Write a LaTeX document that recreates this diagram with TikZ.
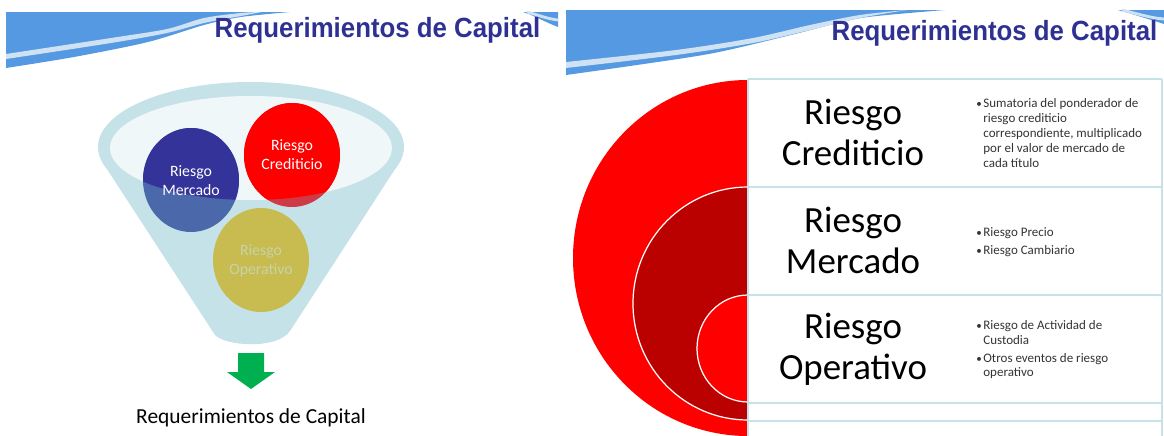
\documentclass[tikz,border=0pt]{standalone}
\usepackage{fontspec}
\setmainfont{Carlito}
\newfontfamily\titlefont{Liberation Sans}

\definecolor{bannerblue}{HTML}{5599E2}
\definecolor{stripeblue}{HTML}{CFE2F3}
\definecolor{titleblue}{HTML}{2E3192}
\definecolor{funnelblue}{HTML}{C5E2E8}
\definecolor{mouthblue}{HTML}{F0F7F9}
\definecolor{navyball}{HTML}{333399}
\definecolor{navyshade}{HTML}{4B68AA}
\definecolor{redshade}{HTML}{CE3A48}
\definecolor{oliveball}{HTML}{C8BC50}
\definecolor{arrowgreen}{HTML}{00B050}
\definecolor{darkred}{HTML}{BB0000}

\tikzset{
  ball/.style={font=\fontsize{9}{10.8}\selectfont,text=white,align=center,inner sep=0pt},
  slidetitle/.style={font=\titlefont\bfseries\fontsize{15.8}{16}\selectfont,text=titleblue,inner sep=0pt},
  riskname/.style={font=\fontsize{21}{23.3}\selectfont,align=center,inner sep=0pt},
  riskitems/.style={font=\fontsize{7.4}{8.5}\selectfont,text=black!80,align=left,anchor=north west,inner sep=0pt},
  rowline/.style={funnelblue,line width=1pt},
  ring/.style={draw=white,line width=.7pt}
}
\newcommand{\riskitem}{\hbox to 4pt{\scalebox{.85}{\textbullet}\hss}}
\newcommand{\riskmore}{\hbox to 4pt{\hss}}

\begin{document}
\begin{tikzpicture}[x=.02cm,y=.02cm]
  \useasboundingbox (0,0) rectangle (1164,-436);

  % left slide banner
  \fill [bannerblue] (6,-12) -- (290,-12) -- plot [smooth] coordinates {(290,-12) (241,-17) (204,-25) (148,-42) (74,-57) (6,-68)} -- cycle;
  \fill [stripeblue] plot [smooth] coordinates {(6,-54) (111,-38) (167,-29) (204,-18) (241,-13) (262,-12)}
    -- plot [smooth] coordinates {(262,-12) (241,-16) (204,-23) (167,-33) (111,-43) (6,-59)} -- cycle;
  \fill [bannerblue] (523,-12) -- (558,-12) -- (558,-27) .. controls (545,-22) and (535,-16) .. (523,-12);
  \draw [stripeblue,line width=1.6pt] (527,-12) .. controls (538,-15) and (548,-19) .. (558,-20);
  \node [slidetitle] (titlea) at (377.5,-30) {\scalebox{.93}[1]{Requerimientos de Capital}};

  % funnel
  \fill [funnelblue] (103,-163) -- (215,-335) .. controls (225,-346) and (277,-350) .. (290,-331)
    -- (399,-163) -- cycle;
  \fill [funnelblue] (251,-147) ellipse (153 and 65);
  \fill [mouthblue] (251,-148) ellipse (141 and 52);

  % risk balls, paler where the funnel wall lies over them
  \fill [navyshade] (191,-180) ellipse (48 and 52);
  \fill [redshade] (292,-155) ellipse (48 and 52);
  \begin{scope}
    \clip (251,-148) ellipse (141 and 52);
    \fill [navyball] (191,-180) ellipse (48 and 52);
    \fill [red] (292,-155) ellipse (48 and 52);
  \end{scope}
  \fill [oliveball] (261,-260) ellipse (48 and 52);
  \node [ball] (mercado) at (191,-181) {Riesgo\\Mercado};
  \node [ball] (crediticio) at (292,-155) {Riesgo\\Crediticio};
  \node [ball,text=funnelblue!60!oliveball] (operativo) at (261,-261) {Riesgo\\Operativo};

  % arrow and result
  \fill [arrowgreen] (238,-353) -- (264,-353) -- (264,-372) -- (275,-372) -- (251,-389)
    -- (227,-372) -- (238,-372) -- cycle;
  \node [font=\fontsize{12.2}{14}\selectfont,inner sep=0pt] (result) at (251,-418) {Requerimientos de Capital};

  % right slide banner
  \fill [bannerblue] (566,-10) -- (945,-10) -- plot [smooth] coordinates {(945,-10) (868,-17) (830,-25) (791,-35) (714,-53) (637,-65) (566,-75)} -- cycle;
  \fill [stripeblue] plot [smooth] coordinates {(566,-62) (676,-50) (753,-38) (810,-25) (860,-15) (907,-10)}
    -- plot [smooth] coordinates {(907,-10) (860,-18) (810,-30) (753,-43) (676,-55) (566,-68)} -- cycle;
  \fill [bannerblue] (1118,-10) -- (1164,-10) -- (1164,-24) .. controls (1148,-19) and (1132,-14) .. (1118,-10);
  \draw [stripeblue,line width=1.6pt] (1122,-10) .. controls (1135,-13) and (1150,-18) .. (1164,-19);
  \node [slidetitle] (titleb) at (994.5,-33) {\scalebox{.93}[1]{Requerimientos de Capital}};

  % nested half rings
  \begin{scope}
    \clip (560,-70) rectangle (748,-436);
    \fill [red] (748,-258) ellipse (175 and 178);
    \draw [ring,fill=darkred] (748,-303.5) ellipse (115 and 116.5);
    \draw [ring,fill=red] (748,-348.5) ellipse (51 and 53.5);
  \end{scope}

  % table rows
  \draw [rowline] (748,-79) -- (1162,-79);
  \draw [rowline] (748,-187) -- (1162,-187);
  \draw [rowline] (748,-295) -- (1162,-295);
  \draw [rowline] (748,-403) -- (1162,-403);
  \draw [rowline] (748,-421) -- (1162,-421);
  \draw [rowline] (748,-79) -- (748,-436);
  \draw [rowline] (1162,-79) -- (1162,-436);

  \node [riskname] (rowa) at (853,-132.5) {Riesgo\\Crediticio};
  \node [riskname] (rowb) at (853,-240) {Riesgo\\Mercado};
  \node [riskname] (rowc) at (853,-349.5) {Riesgo\\Operativo};

  \node [riskitems] (itemsa) at (976,-98) {\riskitem Sumatoria del ponderador de\\\riskmore riesgo crediticio\\\riskmore correspondiente, multiplicado\\\riskmore por el valor de mercado de\\\riskmore cada título};
  \node [riskitems] (itemsb) at (976,-227) {\riskitem Riesgo Precio\\[1.6pt]\riskitem Riesgo Cambiario};
  \node [riskitems] (itemsc) at (976,-320) {\riskitem Riesgo de Actividad de\\\riskmore Custodia\\[1.6pt]\riskitem Otros eventos de riesgo\\\riskmore operativo};
\end{tikzpicture}
\end{document}
